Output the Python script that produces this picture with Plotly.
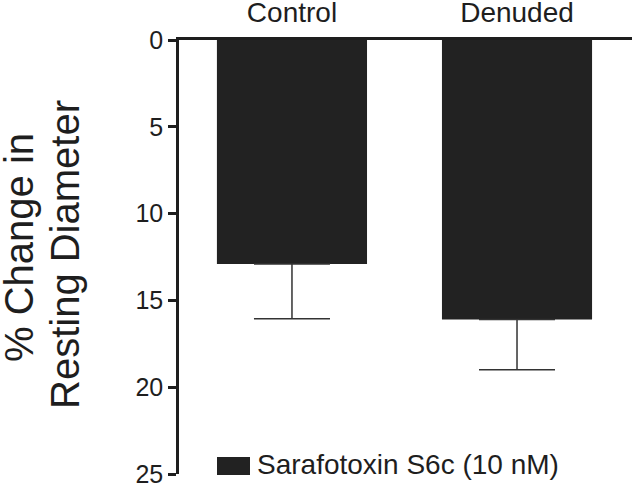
import plotly.graph_objects as go

categories = ["Control", "Denuded"]
values = [12.9, 16.1]
errors = [3.15, 2.9]
series_name = "Sarafotoxin S6c (10 nM)"
y_title_lines = ["% Change in", "Resting Diameter"]
y_ticks = [0, 5, 10, 15, 20, 25]

FONT = "Liberation Sans, Arial, sans-serif"
INK = "#1e1e1e"

fig = go.Figure()
fig.add_trace(go.Bar(
    x=categories, y=values, name=series_name,
    marker=dict(color="#222222", line=dict(width=0)),
    error_y=dict(type="data", symmetric=False, array=errors,
                 arrayminus=[0] * len(errors),
                 color="#333333", thickness=1.5, width=38),
    showlegend=False,
))

W, H = 632, 483
L, R, T, B = 179, 0, 40, 9
pw, ph = W - L - R, H - T - B

def px_x(p):
    return (p - L) / pw

def px_y(p):
    return (H - B - p) / ph

fig.update_layout(
    width=W, height=H,
    margin=dict(l=L, r=R, t=T, b=B, pad=0, autoexpand=False),
    paper_bgcolor="white", plot_bgcolor="white",
    font=dict(family=FONT, color=INK),
    bargap=0.333,
    xaxis=dict(side="top", range=[-0.502, 1.511], showline=True,
               linecolor=INK, linewidth=2.5, ticks="",
               tickfont=dict(size=28, color=INK), showgrid=False,
               zeroline=False, ticklabelstandoff=4, automargin=False),
    yaxis=dict(range=[25, 0], tickvals=y_ticks, showline=True,
               linecolor=INK, linewidth=2.5, ticks="outside",
               ticklen=8, tickwidth=2.5, tickcolor=INK,
               tickfont=dict(size=25, color=INK), showgrid=False,
               zeroline=False, ticklabeloverflow="allow", automargin=False),
    showlegend=False,
)

# y-axis title as two rotated lines
fig.add_annotation(text=y_title_lines[0], xref="paper", yref="paper",
                   x=px_x(19), y=px_y(248), textangle=-90, showarrow=False,
                   xanchor="center", yanchor="middle",
                   font=dict(size=40, family=FONT, color=INK))
fig.add_annotation(text=y_title_lines[1], xref="paper", yref="paper",
                   x=px_x(65), y=px_y(255), textangle=-90, showarrow=False,
                   xanchor="center", yanchor="middle",
                   font=dict(size=40, family=FONT, color=INK))

# legend key
fig.add_shape(type="rect", xref="paper", yref="paper",
              x0=px_x(217), x1=px_x(250), y0=px_y(475), y1=px_y(457),
              fillcolor="#222222", line=dict(width=0))
fig.add_annotation(text=series_name, xref="paper", yref="paper",
                   x=px_x(255), y=px_y(464), showarrow=False,
                   xanchor="left", yanchor="middle",
                   font=dict(size=28, family=FONT, color=INK))

fig.write_html(
    "out.html",
    config={"displayModeBar": False},
    post_script="document.body.style.margin='0';document.body.style.overflow='hidden';",
)
